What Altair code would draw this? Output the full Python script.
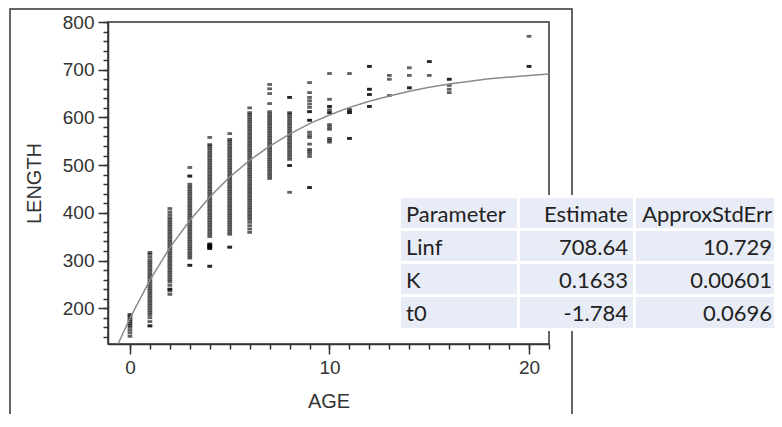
import altair as alt
import pandas as pd

# ---------------- data ----------------
AGE_0 = [141, 148, 154, 160, 164, 168, 172, 176, 180, 184, 187]
AGE_1 = [163, 163, 172, 180, 186, 191, 196, 201, 206, 211, 216, 221, 226, 231, 236, 241, 246,
         251, 256, 261, 266, 271, 276, 281, 286, 291, 296, 301, 307, 313, 317]
AGE_2 = [229, 236, 240, 240, 248, 255, 260, 265, 270, 275, 280, 285, 290, 295, 300, 305, 310,
         315, 320, 325, 330, 335, 340, 345, 350, 355, 360, 365, 370, 375, 380, 385, 390, 396,
         402, 409]
AGE_3 = [290, 290, 305, 310, 315, 320, 325, 330, 335, 340, 345, 350, 355, 360, 365, 370, 375,
         380, 385, 390, 395, 400, 405, 410, 415, 420, 425, 430, 435, 440, 445, 450, 455, 460,
         477, 477, 495]
AGE_4 = [288, 288, 325, 327, 329, 331, 333, 335, 325, 329, 333, 350, 355, 360, 365, 370, 375,
         380, 385, 390, 395, 400, 405, 410, 415, 420, 425, 430, 435, 440, 445, 450, 455, 460,
         465, 470, 475, 480, 485, 490, 495, 500, 505, 510, 515, 520, 525, 530, 535, 540, 543,
         558]
AGE_5 = [328, 328, 355, 360, 365, 370, 375, 380, 385, 390, 395, 400, 405, 410, 415, 420, 425,
         430, 435, 440, 445, 450, 455, 460, 465, 470, 475, 480, 485, 490, 495, 500, 505, 510,
         515, 520, 525, 530, 535, 540, 545, 550, 554, 566]
AGE_6 = [359, 366, 373, 380, 386, 391, 396, 401, 406, 411, 416, 421, 426, 431, 436, 441, 446,
         451, 456, 461, 466, 471, 476, 481, 486, 491, 496, 501, 506, 511, 516, 521, 526, 531,
         536, 541, 546, 551, 556, 561, 566, 571, 576, 581, 586, 591, 596, 601, 606, 610, 620]
AGE_7 = [472, 477, 482, 487, 492, 497, 502, 507, 512, 517, 522, 527, 532, 537, 542, 547, 552,
         557, 562, 567, 572, 577, 582, 587, 592, 597, 602, 607, 612, 629, 650, 660, 669]
AGE_8 = [443, 499, 499, 512, 517, 522, 527, 532, 537, 542, 547, 552, 557, 562, 567, 572, 577,
         582, 587, 592, 597, 602, 607, 610, 642, 642]
AGE_9 = [453, 453, 518, 524, 529, 533, 544, 558, 563, 569, 594, 594, 612, 612, 621, 628, 635,
         642, 652, 673]
AGE_10 = [548, 552, 556, 575, 580, 585, 610, 610, 616, 623, 623, 638, 692]
AGE_11 = [556, 556, 610, 610, 614, 617, 692]
AGE_12 = [623, 623, 648, 648, 659, 659, 707, 707]
AGE_13 = [646, 680, 688]
AGE_14 = [662, 662, 688, 704]
AGE_15 = [688, 717, 717]
AGE_16 = [652, 659, 667, 680, 680]
AGE_20 = [707, 707, 770]

COLUMNS = {0: AGE_0, 1: AGE_1, 2: AGE_2, 3: AGE_3, 4: AGE_4, 5: AGE_5, 6: AGE_6, 7: AGE_7,
           8: AGE_8, 9: AGE_9, 10: AGE_10, 11: AGE_11, 12: AGE_12, 13: AGE_13, 14: AGE_14,
           15: AGE_15, 16: AGE_16, 20: AGE_20}

CURVE_AGE = [-0.6, 0, 1, 2, 3, 4, 5, 6, 7, 8, 9, 10, 11, 12, 13, 14, 15, 16, 18, 20, 21]
CURVE_LEN = [125, 179, 259, 327, 384, 433, 475, 510, 540, 565, 587, 605, 621, 634, 645, 655,
             663, 670, 681, 688, 691]

TABLE_HEADER = ["Parameter", "Estimate", "ApproxStdErr"]
PARAMS = ["Linf", "K", "t0"]
ESTIMATES = ["708.64", "0.1633", "-1.784"]
STDERRS = ["10.729", "0.00601", "0.0696"]

MAJOR_X = [0, 10, 20]
MINOR_X = [0, 1, 2, 3, 4, 5, 6, 7, 8, 9, 10, 11, 12, 13, 14, 15, 16, 17, 18, 19, 20, 21]
MAJOR_Y = [200, 300, 400, 500, 600, 700, 800]
MINOR_Y = [140, 160, 180, 200, 220, 240, 260, 280, 300, 320, 340, 360, 380, 400, 420, 440,
           460, 480, 500, 520, 540, 560, 580, 600, 620, 640, 660, 680, 700, 720, 740, 760,
           780, 800]

# ---------------- build tables ----------------
rows = []
for a, vals in COLUMNS.items():
    for v in vals:
        rows.append({"AGE": a, "LENGTH": v})
pts = pd.DataFrame(rows)
curve = pd.DataFrame({"AGE": CURVE_AGE, "LENGTH": CURVE_LEN})

XDOM = [-1.1, 21.0]
YDOM = [125, 800]
W, H = 441, 322
FONT = "Liberation Sans"
INK = "#333333"

xscale = alt.Scale(domain=XDOM, nice=False, zero=False)
yscale = alt.Scale(domain=YDOM, nice=False, zero=False)

one = pd.DataFrame({"k": [0]})

frame = alt.Chart(one).mark_rect(filled=False, stroke=INK, strokeWidth=1.5).encode(
    x=alt.value(-98), x2=alt.value(464), y=alt.value(-13), y2=alt.value(430))

DASH = "M-1,-0.6H1V0.6H-1Z"
points = alt.Chart(pts).mark_point(shape=DASH, filled=True, size=22, opacity=0.62,
                                   color="black", strokeWidth=0).encode(
    x=alt.X("AGE:Q", scale=xscale,
            axis=alt.Axis(values=MAJOR_X, tickSize=10, labelPadding=4, title="AGE",
                          orient="bottom", grid=False, titleX=W / 2, titleY=57,
                          titleBaseline="middle", titleAlign="center")),
    y=alt.Y("LENGTH:Q", scale=yscale,
            axis=alt.Axis(values=MAJOR_Y, tickSize=10, labelPadding=4, title="LENGTH",
                          orient="left", grid=False, titleX=-74, titleY=H / 2,
                          titleBaseline="middle", titleAlign="center", titleAngle=270)),
)

line = alt.Chart(curve).mark_line(color="#8a8a8a", strokeWidth=1.5).encode(
    x=alt.X("AGE:Q", scale=xscale,
            axis=alt.Axis(values=MINOR_X, tickSize=5, labels=False, title=None,
                          orient="bottom", grid=False, domain=False)),
    y=alt.Y("LENGTH:Q", scale=yscale,
            axis=alt.Axis(values=MINOR_Y, tickSize=5, labels=False, title=None,
                          orient="left", grid=False, domain=False)),
)

# table overlay (pixel layout relative to plot origin)
CELL_FILL = "#e8ecf6"
col_x = [(293, 409), (412, 525), (528, 680)]
row_y = [(176, 206), (209, 239), (242, 272), (275, 306)]
base_y = [200, 233, 266, 299]

table_layers = [alt.Chart(one).mark_rect(color="white").encode(
    x=alt.value(290), x2=alt.value(680), y=alt.value(173), y2=alt.value(309))]
for (y0, y1) in row_y:
    for (x0, x1) in col_x:
        table_layers.append(alt.Chart(one).mark_rect(color=CELL_FILL).encode(
            x=alt.value(x0), x2=alt.value(x1), y=alt.value(y0), y2=alt.value(y1)))

cells = [TABLE_HEADER] + [[p, e, s] for p, e, s in zip(PARAMS, ESTIMATES, STDERRS)]
text_x = [298, 520, 664]
text_align = ["left", "right", "right"]
for r, row in enumerate(cells):
    for c, txt in enumerate(row):
        table_layers.append(alt.Chart(pd.DataFrame({"t": [txt]})).mark_text(
            align=text_align[c], baseline="alphabetic", font="Lato", fontSize=22,
            color="#222222").encode(
            text="t:N", x=alt.value(text_x[c]), y=alt.value(base_y[r])))

chart = alt.layer(frame, points, line, *table_layers).resolve_axis(
    x="independent", y="independent"
).properties(
    width=W, height=H,
    autosize=alt.AutoSizeParams(type="none"),
    padding={"left": 100, "top": 14, "right": 225, "bottom": 70},
).configure_view(
    stroke=INK, strokeWidth=1.5
).configure_axis(
    labelFont=FONT, labelFontSize=19, labelColor=INK, titleFont=FONT, titleFontSize=20,
    titleColor=INK, titleFontWeight="normal", tickColor=INK, domainColor=INK,
    domainWidth=1.5, tickWidth=1.5
)

chart.save("out.html", embed_options={"renderer": "svg", "actions": False})
